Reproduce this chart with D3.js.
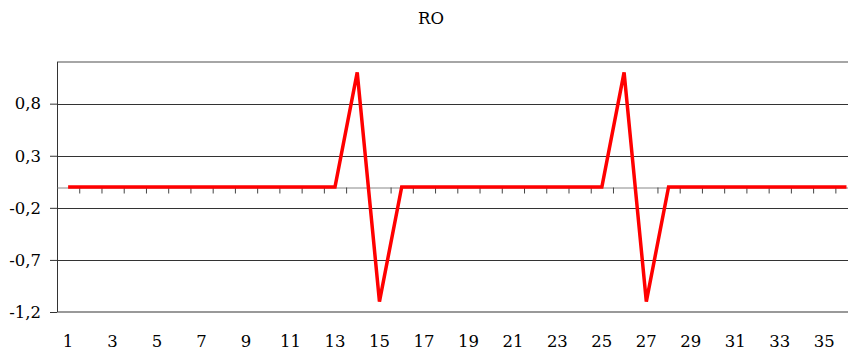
<!DOCTYPE html>
<html>
<head>
<meta charset="utf-8">
<script src="https://cdn.jsdelivr.net/npm/d3@7"></script>
<style>
  body { margin: 0; background: #fff; }
  text { font-family: "DejaVu Serif", "Liberation Serif", serif; fill: #000; }
</style>
</head>
<body>
<script>
// chart data
const categories = d3.range(1, 37);
const values = [0,0,0,0,0,0,0,0,0,0,0,0,0,1.1,-1.1,0,0,0,0,0,0,0,0,0,0,1.1,-1.1,0,0,0,0,0,0,0,0,0];
const yTicks = [-1.2, -0.7, -0.2, 0.3, 0.8];
const xLabels = categories.filter(c => c % 2 === 1);
const title = "RO";

const width = 848, height = 351;
const margin = {top: 62, left: 57, bottom: 39};
const plotRight = 857.6;

const svg = d3.select("body").append("svg")
  .attr("width", width)
  .attr("height", height);

const x = d3.scaleBand()
  .domain(categories)
  .range([margin.left, plotRight])
  .padding(0);

const xEdge = d3.scaleLinear()
  .domain([0, categories.length])
  .range([margin.left, plotRight]);

const y = d3.scaleLinear()
  .domain([-1.2, 1.2])
  .range([height - margin.bottom, margin.top]);

const fmt = d => d3.format(".1f")(d).replace(".", ",").replace("−", "-");

// title
svg.append("text")
  .attr("x", 431)
  .attr("y", 24)
  .attr("text-anchor", "middle")
  .style("font-size", "16.5px")
  .text(title);

// grid lines
svg.append("g")
  .selectAll("line")
  .data(yTicks)
  .enter().append("line")
  .attr("x1", margin.left)
  .attr("x2", plotRight)
  .attr("y1", d => Math.round(y(d)) + 0.5)
  .attr("y2", d => Math.round(y(d)) + 0.5)
  .attr("stroke", "#333")
  .attr("stroke-width", 1);

// top border
svg.append("line")
  .attr("x1", margin.left).attr("x2", plotRight)
  .attr("y1", y(1.2)).attr("y2", y(1.2))
  .attr("stroke", "#888").attr("stroke-width", 1.5);

// bottom border
svg.append("line")
  .attr("x1", margin.left).attr("x2", plotRight)
  .attr("y1", y(-1.2)).attr("y2", y(-1.2))
  .attr("stroke", "#999").attr("stroke-width", 2);

// y axis
const yAxis = svg.append("g")
  .attr("transform", `translate(${margin.left},0)`)
  .call(d3.axisLeft(y).tickValues(yTicks).tickFormat(fmt).tickSize(7).tickPadding(9));
yAxis.select(".domain").attr("stroke", "#333").attr("d", `M0.5,${y(1.2)}V${y(-1.2)}`);
yAxis.selectAll(".tick line").attr("stroke", "#333");
yAxis.selectAll("text").style("font-size", "16.5px").attr("font-family", null);

// x axis crossing at zero
const xAxis = svg.append("g")
  .attr("transform", `translate(0,${Math.round(y(0)) + 0.5})`)
  .call(d3.axisBottom(xEdge).tickValues(d3.range(1, categories.length)).tickFormat("").tickSize(6).tickSizeOuter(0));
xAxis.select(".domain").attr("stroke", "#888");
xAxis.selectAll(".tick line").attr("stroke", "#444");

// x labels at the bottom
const xLab = svg.append("g")
  .attr("transform", `translate(0,${y(-1.2)})`)
  .call(d3.axisBottom(x).tickValues(xLabels).tickSize(0).tickPadding(23));
xLab.select(".domain").remove();
xLab.selectAll("text").style("font-size", "16.5px").attr("font-family", null);

// series line
const line = d3.line()
  .x((d, i) => x(categories[i]) + x.bandwidth() / 2)
  .y(d => y(d));

svg.append("path")
  .datum(values)
  .attr("fill", "none")
  .attr("stroke", "#ff0000")
  .attr("stroke-width", 3.5)
  .attr("stroke-linejoin", "miter")
  .attr("d", line);
</script>
</body>
</html>
